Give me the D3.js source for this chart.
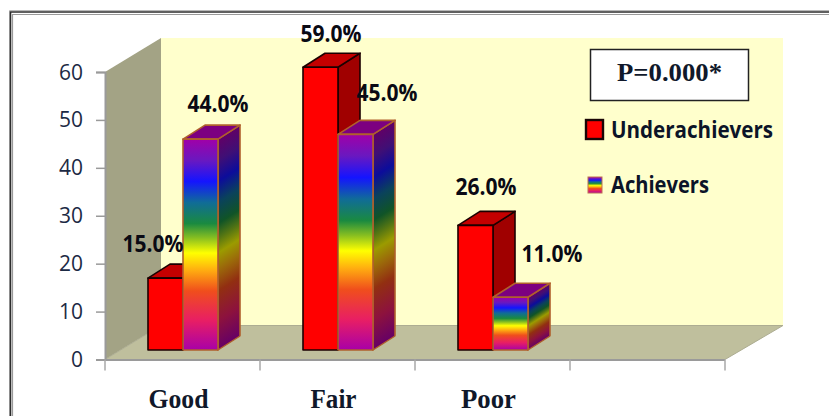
<!DOCTYPE html>
<html>
<head>
<meta charset="utf-8">
<style>
  html, body { margin: 0; padding: 0; background: #fff; }
  svg { display: block; }
  .num { font-family: "Open Sans", "DejaVu Sans", sans-serif; }
  .serif { font-family: "Liberation Serif", serif; font-weight: 700; }
</style>
<script src="https://cdn.jsdelivr.net/npm/d3@7/dist/d3.min.js"></script>
</head>
<body>
<svg id="chart" width="829" height="416"></svg>
<script>
// Chart content
const categories = ["Good", "Fair", "Poor", ""];
const seriesNames = ["Underachievers", "Achievers"];
const underachievers = [15, 59, 26];
const achievers = [44, 45, 11];
const valueTicks = [0, 10, 20, 30, 40, 50, 60];
const annotation = "P=0.000*";

const svg = d3.select("#chart");
const W = 829, H = 416;

// Front plane of the box and the projection used for its depth
const plotLeft = 105, plotRight = 725, plotBottom = 359.5, plotTop = 72;
const wallDx = 56, wallDy = -34;
const barDepthX = 22, barDepthY = -14;
const barLift = 9.5;
const barWidth = 35;

const x = d3.scaleBand().domain(categories).range([plotLeft, plotRight]);
const y = d3.scaleLinear().domain([0, 60]).range([plotBottom, plotTop]);

// Rainbow fill of the Achievers bars
const defs = svg.append("defs");
const rainbow = [
  [0, "#a000a8"], [0.1, "#6a18c0"], [0.2, "#1414ff"], [0.3, "#106c98"],
  [0.4, "#1a8a40"], [0.47, "#8ac020"], [0.54, "#ffff00"], [0.62, "#ffae10"],
  [0.72, "#f04e1c"], [0.86, "#e81e64"], [1, "#a800a8"]
];
function addGradient(id, stops, dim) {
  const g = defs.append("linearGradient").attr("id", id)
    .attr("x1", 0).attr("y1", 0).attr("x2", 0).attr("y2", 1);
  g.selectAll("stop").data(stops).join("stop")
    .attr("offset", d => d[0])
    .attr("stop-color", d => d3.color(d[1]).darker(dim).formatHex());
}
addGradient("rainbowFront", rainbow, 0);
addGradient("rainbowSide", rainbow, 1.4);

const poly = pts => pts.map(p => p.join(",")).join(" ");

// Outer picture frame, open towards the right and the bottom
const frame = svg.append("g").attr("fill", "none");
frame.append("path").attr("d", `M9.5,${H} V10.5 H${W}`).attr("stroke", "#b8b8b8").attr("stroke-width", 1);
frame.append("path").attr("d", `M10.5,${H} V12 H${W}`).attr("stroke", "#2c2c2c").attr("stroke-width", 1.6);
frame.append("path").attr("d", `M12.5,${H} V14.5 H${W}`).attr("stroke", "#9a9a9a").attr("stroke-width", 1.2);

// Back wall, side wall and floor
svg.append("polygon").attr("fill", "#ffffcc").attr("points", poly([
  [plotLeft + wallDx, plotTop + wallDy], [plotRight + wallDx + 2, plotTop + wallDy],
  [plotRight + wallDx + 2, plotBottom + wallDy], [plotLeft + wallDx, plotBottom + wallDy]
]));
svg.append("polygon").attr("fill", "#a3a385").attr("points", poly([
  [plotLeft, plotTop], [plotLeft + wallDx, plotTop + wallDy],
  [plotLeft + wallDx, plotBottom + wallDy], [plotLeft, plotBottom]
]));
svg.append("polygon").attr("fill", "#bfbf9d").attr("stroke", "#adad92").attr("stroke-width", 1).attr("points", poly([
  [plotLeft, plotBottom], [plotLeft + wallDx, plotBottom + wallDy],
  [plotRight + wallDx + 2, plotBottom + wallDy], [plotRight, plotBottom]
]));

// Value axis
const yAxis = d3.axisLeft(y).tickValues(valueTicks).tickSize(9).tickPadding(13).tickFormat(d3.format("d"));
const yG = svg.append("g").attr("transform", `translate(${plotLeft},0)`).call(yAxis);
yG.select(".domain").attr("stroke", "#9a9a9a").attr("stroke-width", 2);
yG.selectAll(".tick line").attr("stroke", "#9a9a9a").attr("stroke-width", 1.5);
yG.selectAll(".tick text").attr("class", "num").attr("font-size", 22).attr("font-family", null)
  .attr("fill", "#1c2a44").attr("textLength", d => d === 0 ? 12 : 24).attr("lengthAdjust", "spacingAndGlyphs");

// Category axis: ticks sit on the band edges, labels near the band centres
const edges = categories.map(c => x(c)).concat(plotRight);
const xTicks = svg.append("g");
xTicks.append("line").attr("x1", plotLeft).attr("x2", plotRight)
  .attr("y1", plotBottom + 0.5).attr("y2", plotBottom + 0.5)
  .attr("stroke", "#9a9a9a").attr("stroke-width", 2);
xTicks.selectAll(".edge").data(edges).join("line").attr("class", "edge")
  .attr("x1", d => d).attr("x2", d => d)
  .attr("y1", plotBottom).attr("y2", plotBottom + 11)
  .attr("stroke", "#a8a8a8").attr("stroke-width", 1.5);
const xLabelWidths = { Good: 60, Fair: 46, Poor: 55 };
svg.append("g").selectAll("text").data(categories.filter(c => c)).join("text")
  .attr("class", "serif")
  .attr("x", d => x(d) + x.bandwidth() / 2 - 4).attr("y", 408)
  .attr("text-anchor", "middle").attr("font-size", 27).attr("fill", "#10182a")
  .attr("textLength", d => xLabelWidths[d]).attr("lengthAdjust", "spacingAndGlyphs")
  .text(d => d);

// One 3D column: side and top faces behind the front face
function column(parent, left, value, style) {
  const base = y(0) - barLift;
  const top = y(value) - barLift;
  const right = left + barWidth;
  const g = parent.append("g")
    .attr("stroke", style.stroke).attr("stroke-width", 1.6).attr("stroke-linejoin", "round");
  // The side face is a sheared rectangle so its colour bands follow the slope
  g.append("rect")
    .attr("transform", `translate(${right},${top}) skewY(${Math.atan2(barDepthY, barDepthX) * 180 / Math.PI})`)
    .attr("width", barDepthX).attr("height", base - top).attr("fill", style.side);
  g.append("polygon").attr("fill", style.cap).attr("points", poly([
    [left, top], [left + barDepthX, top + barDepthY],
    [right + barDepthX, top + barDepthY], [right, top]
  ]));
  g.append("rect").attr("x", left).attr("y", top)
    .attr("width", barWidth).attr("height", base - top).attr("fill", style.front);
}
const redStyle = { front: "#ff0000", side: "#a00000", cap: "#c40000", stroke: "#1c0000" };
const rainbowStyle = { front: "url(#rainbowFront)", side: "url(#rainbowSide)", cap: "#7c0080", stroke: "#b0602c" };

const bars = svg.append("g").attr("transform", "translate(0.5,0)");
categories.slice(0, 3).forEach((c, i) => {
  const mid = x(c) + x.bandwidth() / 2;
  column(bars, mid - barWidth, underachievers[i], redStyle);
  column(bars, mid, achievers[i], rainbowStyle);
});

// Value labels, each nudged clear of its column as in a hand-arranged slide
const labelNudge = {
  Underachievers: [[-12, -26.5], [11, -25.5], [11, -30.5]],
  Achievers: [[18, -27.5], [32, -33.5], [42, -35.5]]
};
const labels = svg.append("g");
function valueLabels(values, name, sign) {
  values.forEach((v, i) => {
    const c = categories[i];
    const mid = x(c) + x.bandwidth() / 2;
    const n = labelNudge[name][i];
    labels.append("text")
      .attr("class", "num")
      .attr("x", mid + sign * barWidth / 2 + n[0])
      .attr("y", y(v) - barLift + n[1])
      .attr("text-anchor", "middle")
      .attr("font-size", 23).attr("font-weight", 700).attr("fill", "#0a0a14")
      .attr("textLength", 61).attr("lengthAdjust", "spacingAndGlyphs")
      .text(d3.format(".1f")(v) + "%");
  });
}
valueLabels(underachievers, "Underachievers", -1);
valueLabels(achievers, "Achievers", 1);

// Significance box
svg.append("rect").attr("x", 590.5).attr("y", 49.5).attr("width", 158).attr("height", 51)
  .attr("fill", "#fff").attr("stroke", "#222").attr("stroke-width", 1.5);
svg.append("text").attr("class", "serif").attr("x", 669.5).attr("y", 81)
  .attr("text-anchor", "middle").attr("font-size", 26).attr("fill", "#10182a")
  .attr("textLength", 105).attr("lengthAdjust", "spacingAndGlyphs")
  .text(annotation);

// Legend
const legendRows = [
  { swatch: [586, 120, 17, 19], fill: "#ff0000", stroke: "#1a0505", sw: 2.4, textY: 138, len: 162 },
  { swatch: [588, 177, 14, 16], fill: "url(#rainbowFront)", stroke: "#c07050", sw: 1, textY: 193, len: 98 }
];
const legend = svg.append("g");
seriesNames.forEach((name, i) => {
  const r = legendRows[i];
  legend.append("rect").attr("x", r.swatch[0]).attr("y", r.swatch[1])
    .attr("width", r.swatch[2]).attr("height", r.swatch[3])
    .attr("fill", r.fill).attr("stroke", r.stroke).attr("stroke-width", r.sw);
  legend.append("text").attr("class", "num").attr("x", 611).attr("y", r.textY)
    .attr("font-size", 24).attr("font-weight", 700).attr("fill", "#0c1428")
    .attr("textLength", r.len).attr("lengthAdjust", "spacingAndGlyphs")
    .text(name);
});
</script>
</body>
</html>
